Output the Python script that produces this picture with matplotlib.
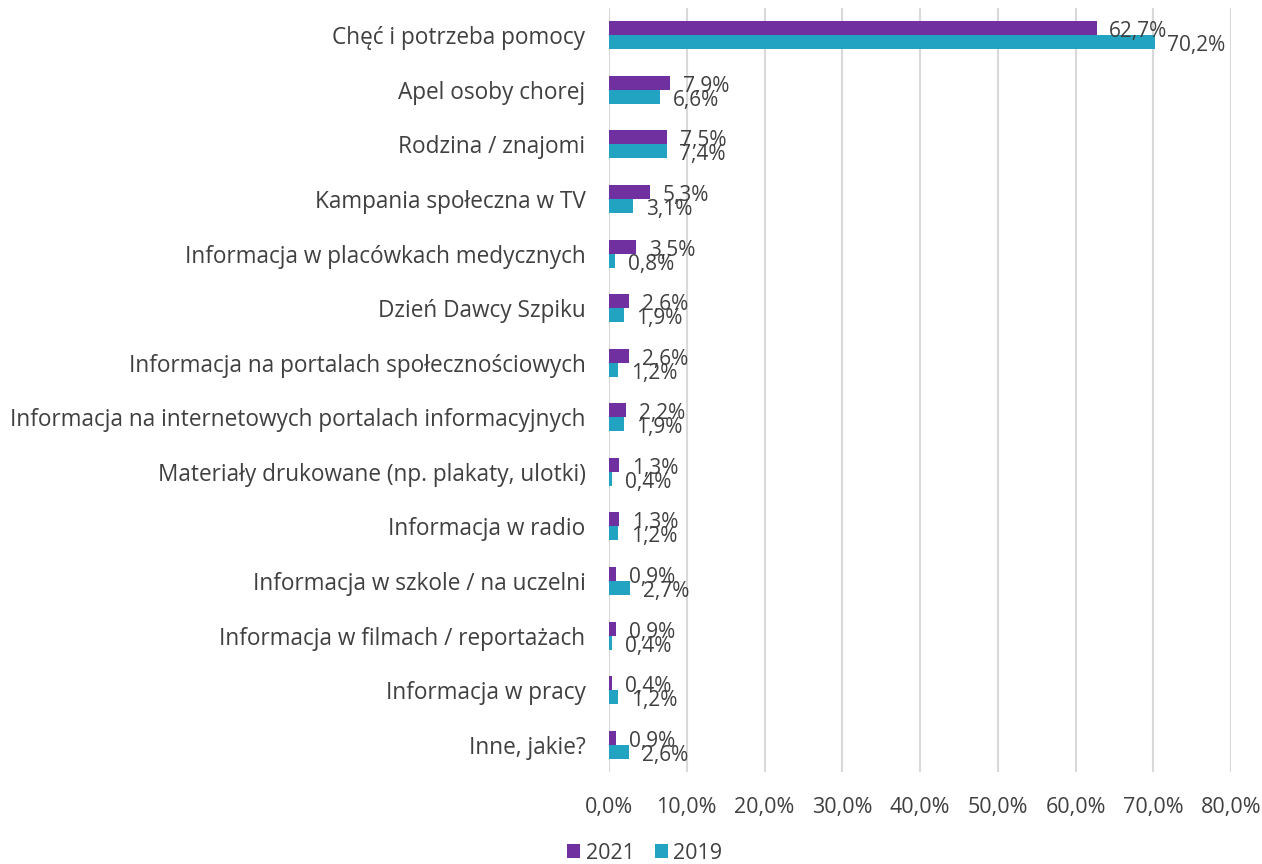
import matplotlib.pyplot as plt
import numpy as np

plt.rcParams['font.family'] = ['Open Sans', 'DejaVu Sans']

categories = [
    "Chęć i potrzeba pomocy",
    "Apel osoby chorej",
    "Rodzina / znajomi",
    "Kampania społeczna w TV",
    "Informacja w placówkach medycznych",
    "Dzień Dawcy Szpiku",
    "Informacja na portalach społecznościowych",
    "Informacja na internetowych portalach informacyjnych",
    "Materiały drukowane (np. plakaty, ulotki)",
    "Informacja w radio",
    "Informacja w szkole / na uczelni",
    "Informacja w filmach / reportażach",
    "Informacja w pracy",
    "Inne, jakie?",
]
values_2021 = [62.7, 7.9, 7.5, 5.3, 3.5, 2.6, 2.6, 2.2, 1.3, 1.3, 0.9, 0.9, 0.4, 0.9]
values_2019 = [70.2, 6.6, 7.4, 3.1, 0.8, 1.9, 1.2, 1.9, 0.4, 1.2, 2.7, 0.4, 1.2, 2.6]

purple = '#7030A0'
teal = '#21A3C1'
text_col = '#404040'

fig = plt.figure(figsize=(12.62, 8.64), dpi=100)
ax = fig.add_axes([0.4826, 0.1065, 0.4929, 0.8842])

y = np.arange(len(categories))
h = 0.257
bars21 = ax.barh(y - h / 2, values_2021, height=h, color=purple, label='2021', zorder=3)
bars19 = ax.barh(y + h / 2, values_2019, height=h, color=teal, label='2019', zorder=3)

def fmt(v):
    return f"{v:.1f}%".replace('.', ',')

for bars, vals in ((bars21, values_2021), (bars19, values_2019)):
    for b, v in zip(bars, vals):
        ax.annotate(fmt(v), (v, b.get_y() + b.get_height() / 2),
                    xytext=(9, -2.5), textcoords='offset points',
                    va='center', ha='left', fontsize=15, color=text_col, zorder=4)

ax.set_ylim(len(categories) - 0.5, -0.5)
ax.set_xlim(0, 80)
ax.set_yticks(y)
ax.set_yticklabels(categories, fontsize=16.3, color=text_col)
xt = np.arange(0, 81, 10)
ax.set_xticks(xt)
ax.set_xticklabels([fmt(v) for v in xt], fontsize=15.5, color=text_col)
ax.tick_params(axis='both', length=0)
ax.tick_params(axis='x', pad=18)
ax.tick_params(axis='y', pad=17)

ax.grid(axis='x', color='#D9D9D9', linewidth=1.5, zorder=0)
for s in ax.spines.values():
    s.set_visible(False)

fig.legend(loc='lower center', bbox_to_anchor=(0.511, -0.022), ncol=2, frameon=False,
           fontsize=15.5, handlelength=0.6, handleheight=0.6, handletextpad=0.25,
           columnspacing=0.95, labelcolor=text_col)

fig.savefig('out.png', dpi=100)
